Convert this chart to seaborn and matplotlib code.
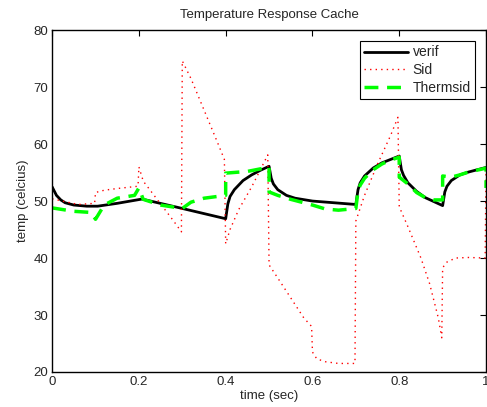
import numpy as np
import pandas as pd
import seaborn as sns
import matplotlib.pyplot as plt

# values
t_verif = [0.0, 0.01, 0.02, 0.03, 0.05, 0.08, 0.105, 0.15, 0.207, 0.30, 0.40,
           0.40, 0.405, 0.41, 0.42, 0.44, 0.46, 0.48, 0.50,
           0.505, 0.51, 0.52, 0.54, 0.56, 0.60, 0.65, 0.70,
           0.705, 0.71, 0.72, 0.74, 0.76, 0.78, 0.80,
           0.805, 0.81, 0.82, 0.84, 0.86, 0.88, 0.90,
           0.905, 0.91, 0.92, 0.94, 0.96, 0.98, 1.0]
verif = [52.5, 51.0, 50.2, 49.7, 49.3, 49.1, 49.1, 49.6, 50.35, 48.7, 46.9,
         46.9, 49.5, 50.8, 52.0, 53.6, 54.6, 55.4, 56.1,
         54.0, 53.0, 52.0, 51.0, 50.5, 50.0, 49.7, 49.4,
         52.0, 53.2, 54.4, 55.8, 56.7, 57.3, 57.9,
         55.5, 54.5, 53.2, 51.7, 50.6, 49.9, 49.2,
         51.6, 52.6, 53.6, 54.6, 55.1, 55.5, 55.9]

t_sid = [0.0, 0.03, 0.06, 0.098, 0.10, 0.12, 0.15, 0.198, 0.20, 0.21, 0.25, 0.28, 0.298,
         0.30, 0.32, 0.35, 0.38, 0.397, 0.40, 0.41, 0.43, 0.46, 0.48, 0.497,
         0.50, 0.52, 0.55, 0.58, 0.598, 0.60, 0.61, 0.63, 0.66, 0.698,
         0.70, 0.72, 0.75, 0.78, 0.797, 0.80, 0.82, 0.85, 0.87, 0.89, 0.898,
         0.90, 0.91, 0.93, 0.96, 0.998, 1.0]
sid = [50.4, 49.9, 49.4, 49.6, 51.5, 51.9, 52.2, 52.6, 56.0, 53.5, 49.5, 46.5, 44.6,
       74.6, 71.5, 66.0, 60.5, 57.3, 42.5, 45.0, 48.5, 52.5, 55.5, 58.1,
       38.8, 36.5, 33.0, 29.5, 28.0, 23.5, 22.3, 21.8, 21.5, 21.5,
       46.5, 51.0, 56.5, 61.5, 64.7, 49.0, 45.5, 40.0, 35.5, 29.5, 26.0,
       38.3, 39.3, 40.0, 40.1, 40.0, 55.5]

t_thermsid = [0.0, 0.05, 0.09, 0.10, 0.12, 0.15, 0.19, 0.20, 0.21, 0.25, 0.30,
              0.32, 0.35, 0.38, 0.40, 0.40, 0.45, 0.49, 0.50,
              0.50, 0.52, 0.55, 0.58, 0.60, 0.63, 0.66, 0.70,
              0.705, 0.71, 0.72, 0.74, 0.76, 0.78, 0.80,
              0.80, 0.82, 0.84, 0.86, 0.88, 0.90,
              0.90, 0.92, 0.94, 0.96, 0.99, 1.0, 1.0]
thermsid = [48.8, 48.2, 48.0, 46.8, 49.3, 50.5, 51.0, 52.3, 50.3, 49.3, 48.7,
            49.8, 50.5, 50.8, 51.0, 54.9, 55.2, 55.8, 56.0,
            51.6, 51.0, 50.3, 49.7, 49.3, 48.6, 48.4, 48.7,
            51.8, 52.8, 54.0, 55.5, 56.5, 57.2, 57.7,
            54.2, 53.0, 51.5, 50.6, 50.2, 50.2,
            54.4, 54.2, 54.6, 55.1, 55.6, 55.8, 52.3]

sns.set_style("white")
plt.rcParams['font.family'] = ['Liberation Sans', 'DejaVu Sans']

fig = plt.figure(figsize=(4.87, 4.07), dpi=100)
ax = fig.add_axes([0.107, 0.086, 0.891, 0.84])

sns.lineplot(x=t_verif, y=verif, estimator=None, sort=False, color='black',
             lw=2, label='verif', ax=ax)
sns.lineplot(x=t_sid, y=sid, estimator=None, sort=False, color='red',
             lw=1, linestyle=(0, (1, 3)), label='Sid', ax=ax)
sns.lineplot(x=t_thermsid, y=thermsid, estimator=None, sort=False, color='#00ff00',
             lw=2.5, linestyle=(0, (4, 2.5)), label='Thermsid', ax=ax)

ax.set_xlim(0, 1)
ax.set_ylim(20, 80)
ax.set_xticks([0, 0.2, 0.4, 0.6, 0.8, 1])
ax.set_xticklabels(['0', '0.2', '0.4', '0.6', '0.8', '1'])
ax.set_yticks([20, 30, 40, 50, 60, 70, 80])
ax.tick_params(direction='in', length=4, width=0.8, top=True, right=True,
               labelsize=9.5, pad=3, color='black')
for s in ax.spines.values():
    s.set_color('black')
    s.set_linewidth(1)

ax.set_title('Temperature Response Cache', fontsize=9.5, pad=9)
ax.set_xlabel('time (sec)', fontsize=9.5, labelpad=1)
ax.set_ylabel('temp (celcius)', fontsize=9.5, labelpad=3)

leg = ax.legend(loc='upper right', fontsize=10, frameon=True, fancybox=False,
                edgecolor='black', framealpha=1, borderpad=0.3, handlelength=3.2,
                handletextpad=0.3, labelspacing=0.28, borderaxespad=0.8)
leg.get_frame().set_linewidth(0.8)

fig.savefig('out.png', dpi=100)
